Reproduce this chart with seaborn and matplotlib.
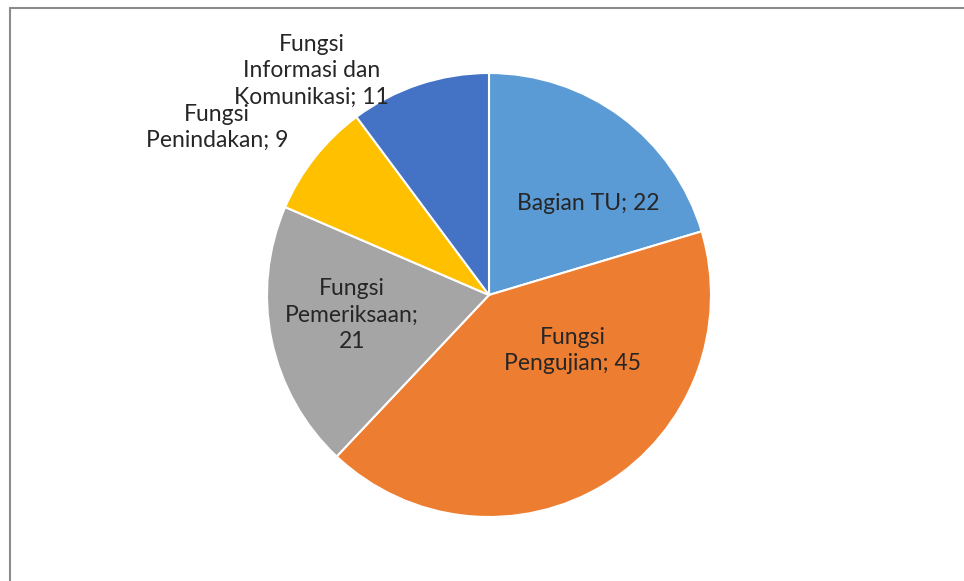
import matplotlib
matplotlib.use("Agg")
import matplotlib.pyplot as plt
import seaborn as sns
from matplotlib.lines import Line2D

categories = ["Bagian TU", "Fungsi\nPengujian", "Fungsi\nPemeriksaan;\n", "Fungsi\nPenindakan", "Fungsi\nInformasi dan\nKomunikasi"]
values = [22, 45, 21, 9, 11]
colors = ["#5B9BD5", "#ED7D31", "#A5A5A5", "#FFC000", "#4472C4"]
label_pos = [(0.446, 0.41), (0.378, -0.25), (-0.617, -0.09), (-1.225, 0.755), (-0.80, 1.01)]

sns.set_theme(style="white")
plt.rcParams['font.family'] = ['Lato', 'DejaVu Sans']

fig = plt.figure(figsize=(9.64, 5.81), dpi=100)
fig.patch.set_facecolor("white")
ax = fig.add_axes([(489 - 222) / 964, (286 - 222) / 581, 444 / 964, 444 / 581])
ax.pie(values, colors=colors, startangle=90, counterclock=False, radius=1,
       wedgeprops=dict(edgecolor="white", linewidth=1.5))
ax.set_xlim(-1, 1)
ax.set_ylim(-1, 1)
ax.set_aspect("equal")
ax.axis("off")

for cat, val, (x, y) in zip(categories, values, label_pos):
    if cat.endswith(";\n"):
        txt = f"{cat}{val}"
    else:
        txt = f"{cat}; {val}"
    ax.text(x, y, txt, ha="center", va="center", fontsize=16.5, color="#262626",
            linespacing=1.3, clip_on=False)

# chart frame (left and top edges visible)
fig.add_artist(Line2D([9.5 / 964, 9.5 / 964], [0, 1 - 7.5 / 581], transform=fig.transFigure,
                      color="#8c8c8c", linewidth=1.5))
fig.add_artist(Line2D([9.5 / 964, 1], [1 - 7.5 / 581, 1 - 7.5 / 581], transform=fig.transFigure,
                      color="#8c8c8c", linewidth=1.5))

fig.savefig("out.png", dpi=100)
